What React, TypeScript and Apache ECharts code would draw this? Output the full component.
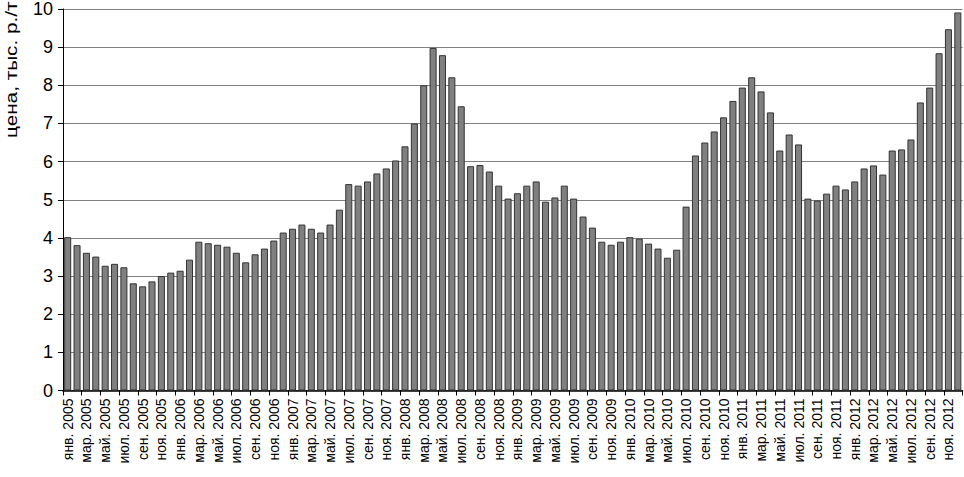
import React, { useEffect, useRef } from "react";
import * as echarts from "echarts";

const months = ["янв.", "фев.", "мар.", "апр.", "май.", "июн.", "июл.", "авг.", "сен.", "окт.", "ноя.", "дек."];
const years = [2005, 2006, 2007, 2008, 2009, 2010, 2011, 2012];
const categories: string[] = [];
years.forEach((y) => months.forEach((m) => categories.push(`${m} ${y}`)));

const prices2005 = [4.02, 3.81, 3.61, 3.51, 3.27, 3.32, 3.23, 2.81, 2.73, 2.86, 3.0, 3.09];
const prices2006 = [3.14, 3.43, 3.9, 3.86, 3.82, 3.77, 3.61, 3.36, 3.57, 3.72, 3.93, 4.14];
const prices2007 = [4.24, 4.35, 4.24, 4.14, 4.35, 4.74, 5.41, 5.37, 5.48, 5.69, 5.82, 6.03];
const prices2008 = [6.4, 7.0, 8.0, 8.98, 8.79, 8.21, 7.45, 5.88, 5.91, 5.74, 5.37, 5.03];
const prices2009 = [5.17, 5.37, 5.48, 4.95, 5.06, 5.37, 5.03, 4.56, 4.27, 3.9, 3.82, 3.9];
const prices2010 = [4.02, 3.98, 3.85, 3.72, 3.48, 3.69, 4.82, 6.16, 6.5, 6.79, 7.16, 7.59];
const prices2011 = [7.94, 8.21, 7.84, 7.29, 6.29, 6.71, 6.45, 5.03, 4.98, 5.16, 5.37, 5.27];
const prices2012 = [5.48, 5.82, 5.9, 5.66, 6.29, 6.32, 6.58, 7.55, 7.94, 8.84, 9.47, 9.91];
const prices = [
  ...prices2005, ...prices2006, ...prices2007, ...prices2008,
  ...prices2009, ...prices2010, ...prices2011, ...prices2012,
];

const yAxisTitle = "цена, тыс. р./т";
const FONT = "'Liberation Sans', Arial, sans-serif";

export default function App() {
  const ref = useRef<HTMLDivElement>(null);
  useEffect(() => {
    if (!ref.current) return;
    const chart = echarts.init(ref.current, undefined, { renderer: "svg" });
    chart.setOption({
      animation: false,
      backgroundColor: "#ffffff",
      grid: { left: 63, right: 1.5, top: 9, bottom: 86.5, containLabel: false },
      xAxis: {
        type: "category",
        data: categories,
        boundaryGap: true,
        axisLine: { show: true, lineStyle: { color: "#000", width: 1.5 } },
        axisTick: { show: true, interval: 1, length: 5, lineStyle: { color: "#000", width: 1 } },
        axisLabel: {
          interval: 1,
          rotate: 90,
          margin: 8,
          color: "#000",
          fontFamily: FONT,
          fontSize: 14,
        },
        splitLine: { show: false },
      },
      yAxis: {
        type: "value",
        min: 0,
        max: 10,
        interval: 1,
        axisLine: { show: true, lineStyle: { color: "#000", width: 1 } },
        axisTick: { show: true, length: 5, lineStyle: { color: "#000" } },
        axisLabel: { color: "#000", fontFamily: FONT, fontSize: 18, margin: 10 },
        splitLine: { show: true, lineStyle: { color: "#808080", width: 1 } },
      },
      graphic: [
        {
          type: "text",
          x: 11,
          y: 138,
          rotation: Math.PI / 2,
          scaleX: 1.22,
          style: {
            text: yAxisTitle,
            x: 0,
            y: 0,
            font: `17px ${FONT}`,
            fill: "#000",
            textAlign: "left",
            textVerticalAlign: "middle",
          },
        },
      ],
      series: [
        {
          type: "bar",
          data: prices,
          barCategoryGap: "25%",
          itemStyle: { color: "#808080", borderColor: "#333333", borderWidth: 1 },
        },
      ],
    });
    return () => chart.dispose();
  }, []);
  return (
    <div
      ref={ref}
      style={{ position: "absolute", left: 0, top: 0, width: 964, height: 477 }}
    />
  );
}
